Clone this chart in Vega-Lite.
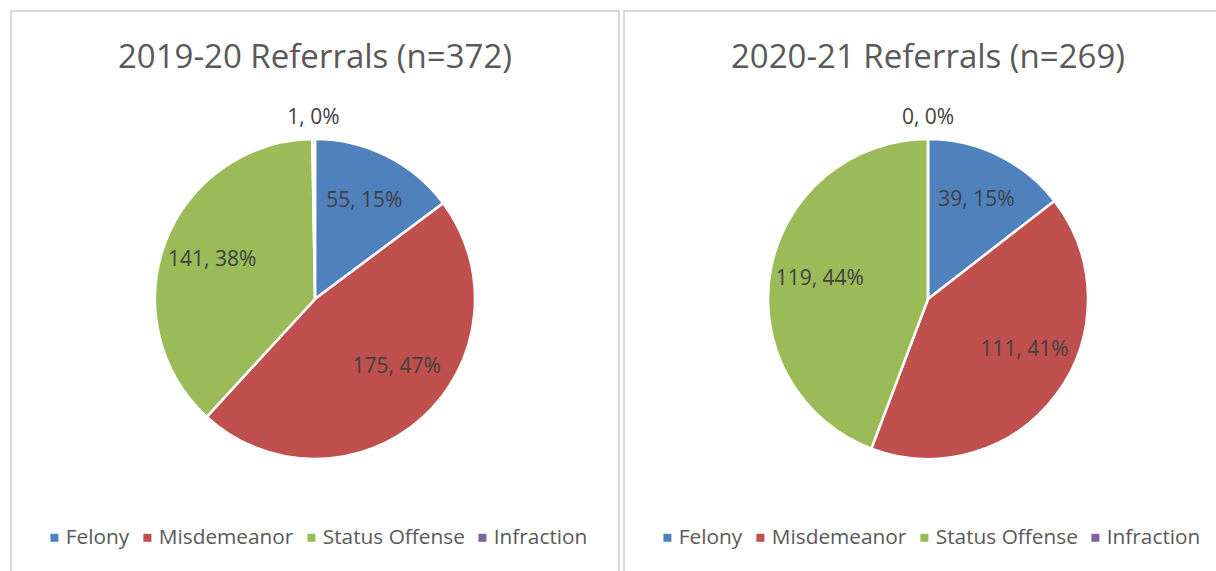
{
  "$schema": "https://vega.github.io/schema/vega-lite/v6.json",
  "background": "white",
  "padding": {"left": 10, "top": 10, "right": 0, "bottom": 0},
  "datasets": {
    "y1920": [
      {"category": "Felony", "count": 55, "label": "55, 15%", "rank": 1},
      {"category": "Misdemeanor", "count": 175, "label": "175, 47%", "rank": 2},
      {"category": "Status Offense", "count": 141, "label": "141, 38%", "rank": 3},
      {"category": "Infraction", "count": 1, "label": "1, 0%", "rank": 4}
    ],
    "y2021": [
      {"category": "Felony", "count": 39, "label": "39, 15%", "rank": 1},
      {"category": "Misdemeanor", "count": 111, "label": "111, 41%", "rank": 2},
      {"category": "Status Offense", "count": 119, "label": "119, 44%", "rank": 3},
      {"category": "Infraction", "count": 0, "label": "0, 0%", "rank": 4}
    ]
  },
  "spacing": 3,
  "hconcat": [
    {
      "width": 608,
      "height": 576,
      "view": {"stroke": "#d9d9d9", "strokeWidth": 2, "fill": "white"},
      "title": {"text": "2019-20 Referrals (n=372)", "offset": -64},
      "data": {"name": "y1920"},
      "encoding": {
        "theta": {"field": "count", "type": "quantitative", "stack": true},
        "order": {"field": "rank", "type": "quantitative"}
      },
      "layer": [
        {
          "mark": {"type": "arc", "outerRadius": 160, "stroke": "white", "strokeWidth": 2.5},
          "encoding": {
            "color": {"field": "category", "type": "nominal", "title": null,
              "scale": {"domain": ["Felony", "Misdemeanor", "Status Offense", "Infraction"], "range": ["#4F81BD", "#C0504D", "#9BBB59", "#8064A2"]},
              "legend": {"orient": "none", "legendX": 33, "legendY": 516, "direction": "horizontal"}}
          }
        },
        {
          "mark": {"type": "text", "radius": 110, "fontSize": 21, "font": "Open Sans", "fill": "#404040"},
          "encoding": {"text": {"condition": {"test": "datum.category == 'Felony' || datum.category == 'Status Offense'", "field": "label"}, "value": ""}, "detail": {"field": "category"}}
        },
        {
          "mark": {"type": "text", "radius": 110, "dx": 8, "dy": -14, "fontSize": 21, "font": "Open Sans", "fill": "#404040"},
          "encoding": {"text": {"condition": {"test": "datum.category == 'Misdemeanor'", "field": "label"}, "value": ""}, "detail": {"field": "category"}}
        },
        {
          "mark": {"type": "text", "radius": 181, "fontSize": 21, "font": "Open Sans", "fill": "#404040"},
          "encoding": {"text": {"condition": {"test": "datum.category == 'Infraction'", "field": "label"}, "value": ""}, "detail": {"field": "category"}}
        }
      ]
    },
    {
      "width": 608,
      "height": 576,
      "view": {"stroke": "#d9d9d9", "strokeWidth": 2, "fill": "white"},
      "title": {"text": "2020-21 Referrals (n=269)", "offset": -64},
      "data": {"name": "y2021"},
      "encoding": {
        "theta": {"field": "count", "type": "quantitative", "stack": true},
        "order": {"field": "rank", "type": "quantitative"}
      },
      "layer": [
        {
          "mark": {"type": "arc", "outerRadius": 160, "stroke": "white", "strokeWidth": 2.5},
          "encoding": {
            "color": {"field": "category", "type": "nominal", "title": null,
              "scale": {"domain": ["Felony", "Misdemeanor", "Status Offense", "Infraction"], "range": ["#4F81BD", "#C0504D", "#9BBB59", "#8064A2"]},
              "legend": {"orient": "none", "legendX": 33, "legendY": 516, "direction": "horizontal"}}
          }
        },
        {
          "mark": {"type": "text", "radius": 110, "fontSize": 21, "font": "Open Sans", "fill": "#404040"},
          "encoding": {"text": {"condition": {"test": "datum.category == 'Felony' || datum.category == 'Status Offense'", "field": "label"}, "value": ""}, "detail": {"field": "category"}}
        },
        {
          "mark": {"type": "text", "radius": 110, "dx": 8, "dy": -14, "fontSize": 21, "font": "Open Sans", "fill": "#404040"},
          "encoding": {"text": {"condition": {"test": "datum.category == 'Misdemeanor'", "field": "label"}, "value": ""}, "detail": {"field": "category"}}
        },
        {
          "mark": {"type": "text", "radius": 181, "fontSize": 21, "font": "Open Sans", "fill": "#404040"},
          "encoding": {"text": {"condition": {"test": "datum.category == 'Infraction'", "field": "label"}, "value": ""}, "detail": {"field": "category"}}
        }
      ]
    }
  ],
  "resolve": {"scale": {"theta": "independent", "color": "independent"}, "legend": {"color": "independent"}},
  "config": {
    "title": {"font": "Open Sans", "fontSize": 33, "fontWeight": "normal", "color": "#595959", "anchor": "middle"},
    "legend": {
      "labelFont": "Open Sans", "labelFontSize": 20.8, "labelColor": "#595959",
      "symbolType": "square", "symbolSize": 64, "symbolStrokeWidth": 0,
      "columnPadding": 7, "labelOffset": 1, "padding": 0, "labelLimit": 400
    }
  }
}
